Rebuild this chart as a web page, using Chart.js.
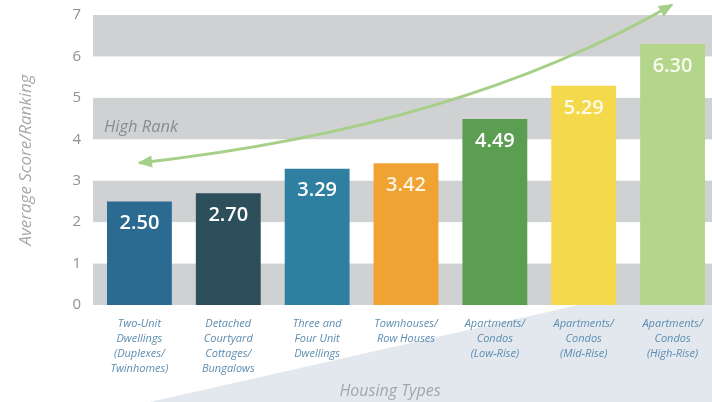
<!DOCTYPE html>
<html>
<head>
<meta charset="utf-8">
<script src="https://cdn.jsdelivr.net/npm/chart.js@4"></script>
<style>
  html, body { margin: 0; padding: 0; background: #fff; overflow: hidden; }
  #wrap { width: 720px; height: 402px; position: relative; }
</style>
</head>
<body>
<div id="wrap"><canvas id="myChart" width="720" height="402"></canvas></div>
<script>
var categories = [
  ["Two-Unit", "Dwellings", "(Duplexes/", "Twinhomes)"],
  ["Detached", "Courtyard", "Cottages/", "Bungalows"],
  ["Three and", "Four Unit", "Dwellings"],
  ["Townhouses/", "Row Houses"],
  ["Apartments/", "Condos", "(Low-Rise)"],
  ["Apartments/", "Condos", "(Mid-Rise)"],
  ["Apartments/", "Condos", "(High-Rise)"]
];
var scores = [2.50, 2.70, 3.29, 3.42, 4.49, 5.29, 6.30];
var barColors = ["#2c6b91", "#2c4f5b", "#2f7fa1", "#f0a232", "#5b9e52", "#f5d94c", "#b4d68b"];
var valueColors = ["#ffffff", "#ffffff", "#ffffff", "#fdf3df", "#ffffff", "#fffbe6", "#f6fbef"];
var yTicks = [0, 1, 2, 3, 4, 5, 6, 7];
// arrow path in data coordinates: [category index, score]
var arrowPath = [[0.0, 3.43], [3.6, 4.28], [5.99, 7.24]];

var bandPlugin = {
  id: "bands",
  beforeDraw: function (chart) {
    var ctx = chart.ctx;
    var y = chart.scales.y;
    var area = chart.chartArea;
    ctx.save();
    // light backdrop wedge
    ctx.fillStyle = "#e2e8ee";
    ctx.beginPath();
    ctx.moveTo(150, chart.height);
    ctx.lineTo(chart.width, y.getPixelForValue(0) - 32);
    ctx.lineTo(chart.width, chart.height);
    ctx.closePath();
    ctx.fill();
    ctx.fillStyle = "#d0d1d3";
    for (var i = 0; i < yTicks.length - 1; i += 2) {
      var top = y.getPixelForValue(yTicks[i + 1]);
      var bot = y.getPixelForValue(yTicks[i]);
      ctx.fillRect(area.left - 2, top, chart.width - area.left + 2, bot - top);
    }
    ctx.font = "italic 16.5px 'Open Sans'";
    ctx.fillStyle = "#8a8c8f";
    ctx.textAlign = "left";
    ctx.textBaseline = "middle";
    ctx.fillText("High Rank", 104, y.getPixelForValue(4.3));
    ctx.restore();
  },
  afterDatasetsDraw: function (chart) {
    var ctx = chart.ctx;
    var x = chart.scales.x;
    var y = chart.scales.y;
    var meta = chart.getDatasetMeta(0);
    ctx.save();
    ctx.font = "600 20px 'Open Sans'";
    ctx.textAlign = "center";
    ctx.textBaseline = "middle";
    meta.data.forEach(function (bar, i) {
      ctx.fillStyle = valueColors[i];
      ctx.fillText(scores[i].toFixed(2), bar.x, bar.y + 22);
    });
    // arrow
    var p = arrowPath.map(function (d) {
      return [x.getPixelForValue(d[0]), y.getPixelForValue(d[1])];
    });
    ctx.strokeStyle = "#a6cf88";
    ctx.fillStyle = "#a6cf88";
    ctx.lineWidth = 3;
    ctx.beginPath();
    ctx.moveTo(p[0][0], p[0][1]);
    ctx.quadraticCurveTo(p[1][0], p[1][1], p[2][0], p[2][1]);
    ctx.stroke();
    drawHead(ctx, p[0], p[1]);
    drawHead(ctx, p[2], p[1]);
    // x axis title, sits a little left of centre in the original
    ctx.font = "italic 16px 'Open Sans'";
    ctx.fillStyle = "#a3a6aa";
    ctx.fillText("Housing Types", 390, 391);
    ctx.restore();
  }
};

function drawHead(ctx, tip, from) {
  var a = Math.atan2(tip[1] - from[1], tip[0] - from[0]);
  var len = 14, w = 0.45;
  ctx.beginPath();
  ctx.moveTo(tip[0] + Math.cos(a) * 2, tip[1] + Math.sin(a) * 2);
  ctx.lineTo(tip[0] - Math.cos(a - w) * len, tip[1] - Math.sin(a - w) * len);
  ctx.lineTo(tip[0] - Math.cos(a + w) * len, tip[1] - Math.sin(a + w) * len);
  ctx.closePath();
  ctx.fill();
}

var barGraph = new Chart(document.getElementById("myChart"), {
  type: "bar",
  data: {
    labels: categories,
    datasets: [
      {
        data: scores,
        backgroundColor: barColors,
        borderWidth: 0,
        barPercentage: 0.73,
        categoryPercentage: 1.0,
      },
    ],
  },
  options: {
    responsive: false,
    animation: false,
    layout: { padding: { top: 15, right: 3, left: 0, bottom: 0 } },
    plugins: {
      legend: { display: false },
      tooltip: { enabled: false },
    },
    scales: {
      x: {
        grid: { display: false, drawTicks: false },
        border: { display: false },
        ticks: {
          color: "#5d8db1",
          font: { family: "'Open Sans'", style: "italic", size: 11, lineHeight: 1.36 },
          maxRotation: 0,
          autoSkip: false,
          padding: 11,
        },
        afterFit: function (scale) {
          scale.height = 97;
        },
      },
      y: {
        min: 0,
        max: 7,
        grid: { display: false, drawTicks: false },
        border: { display: false },
        ticks: {
          stepSize: 1,
          color: "#8e9093",
          font: { family: "'Open Sans'", size: 15 },
          padding: 14,
          callback: function (v) { return yTicks.indexOf(v) >= 0 ? v : ""; },
        },
        title: {
          display: true,
          text: "Average Score/Ranking",
          color: "#a6a8ab",
          font: { family: "'Open Sans'", style: "italic", size: 17 },
          padding: { top: 16, bottom: 10 },
        },
        afterFit: function (scale) {
          scale.width = 95;
          scale.paddingTop = 0;
          scale.paddingBottom = 0;
        },
      },
    },
  },
  plugins: [bandPlugin],
});
</script>
</body>
</html>
